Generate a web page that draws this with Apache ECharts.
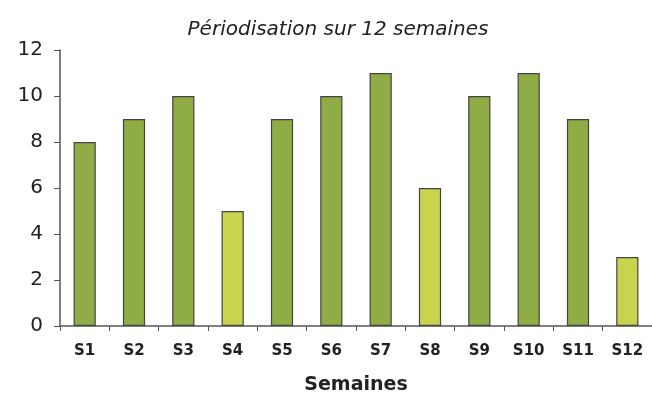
<!DOCTYPE html>
<html><head><meta charset="utf-8">
<script src="https://cdn.jsdelivr.net/npm/echarts@6/dist/echarts.min.js"></script>
<style>html,body{margin:0;padding:0;background:#fff}#c{width:652px;height:400px}</style>
</head><body><div id="c"></div>
<script>
const categories = ['S1','S2','S3','S4','S5','S6','S7','S8','S9','S10','S11','S12'];
const values = [8,9,10,5,9,10,11,6,10,11,9,3];
const lightWeeks = ['S4','S8','S12'];
const yTicks = [0,2,4,6,8,10,12];
const F = 'DejaVu Sans';
const chart = echarts.init(document.getElementById('c'));
chart.setOption({
  animation:false,
  title:{text:'Périodisation sur 12 semaines',left:333,textAlign:'center',top:15,
    textStyle:{fontFamily:F,fontStyle:'italic',fontWeight:'normal',fontSize:20,color:'#222'}},
  grid:{left:60,right:0,top:50,bottom:74},
  xAxis:{type:'category',data:categories,
    name:'Semaines',nameLocation:'middle',nameGap:50,
    nameTextStyle:{fontFamily:F,fontWeight:'bold',fontSize:19,color:'#222'},
    axisLine:{lineStyle:{color:'#555',width:1.5}},
    axisTick:{show:true,alignWithLabel:false,length:5,lineStyle:{color:'#555'}},
    axisLabel:{fontFamily:F,fontWeight:'bold',fontSize:15,color:'#222',margin:18,interval:0}},
  yAxis:{type:'value',min:0,max:12,interval:2,
    axisLine:{show:true,lineStyle:{color:'#555',width:1.5}},
    axisTick:{show:true,length:6,lineStyle:{color:'#555'}},
    splitLine:{show:false},
    axisLabel:{fontFamily:F,fontSize:20,color:'#222',margin:17,
      formatter:v=>yTicks.includes(v)?String(v):''}},
  series:[{type:'bar',barWidth:'45%',
    data:values.map((v,i)=>({value:v,itemStyle:{color:lightWeeks.includes(categories[i])?'#c8d44e':'#8fac45'}})),
    itemStyle:{borderColor:'#444',borderWidth:1.2}}]
});
</script></body></html>
